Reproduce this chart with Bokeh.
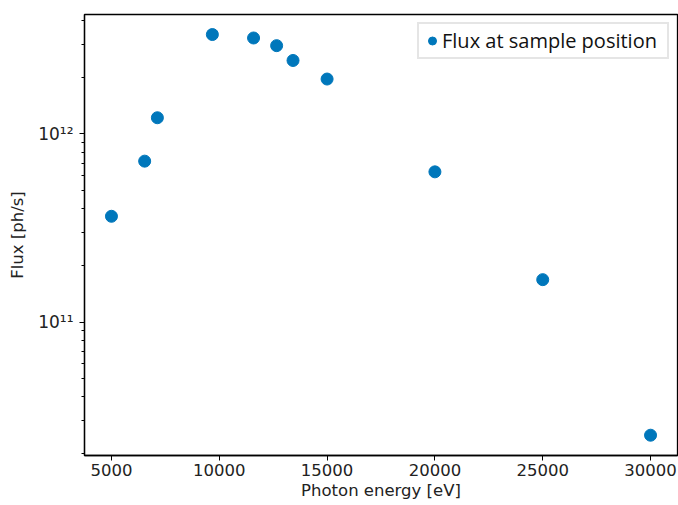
from bokeh.plotting import figure
from bokeh.models import FixedTicker, CustomJSTickFormatter, Range1d
from bokeh.embed import file_html
from bokeh.resources import INLINE

# Data
energy_ev = [5000, 6540, 7130, 9680, 11590, 12660, 13420, 15000, 20000, 25000, 30000]
flux_ph_s = [3.65e11, 7.17e11, 1.22e12, 3.38e12, 3.24e12, 2.95e12, 2.46e12,
             1.96e12, 6.29e11, 1.68e11, 2.50e10]

x_ticks = [5000, 10000, 15000, 20000, 25000, 30000]
y_ticks = [1e11, 1e12]
y_minor = [m * 10.0 ** e for e in (10, 11, 12) for m in range(2, 10)]

series_label = "Flux at sample position"
x_label = "Photon energy [eV]"
y_label = "Flux [ph/s]"

FONT = "DejaVu Sans"
COLOR = "#0077bb"

p = figure(width=678, height=505, y_axis_type="log",
           x_range=Range1d(3750, 31250), y_range=Range1d(1.95e10, 4.32e12),
           output_backend="svg", toolbar_location=None,
           min_border_left=84, min_border_right=1, min_border_top=14, min_border_bottom=50)

p.scatter(energy_ev, flux_ph_s, size=12, fill_color=COLOR, line_color=COLOR,
          legend_label=series_label)

p.grid.visible = False
p.outline_line_color = "black"
p.outline_line_width = 1.3
p.background_fill_color = "white"
p.border_fill_color = "white"

xa = p.xaxis[0]
xa.ticker = FixedTicker(ticks=x_ticks)
xa.axis_label = x_label
ya = p.yaxis[0]
ya.ticker = FixedTicker(ticks=y_ticks, minor_ticks=y_minor)
ya.formatter = CustomJSTickFormatter(code=r"""
const e = Math.round(Math.log10(tick));
const sup = {'0':'\u2070','1':'\u00b9','2':'\u00b2','3':'\u00b3','4':'\u2074','5':'\u2075','6':'\u2076','7':'\u2077','8':'\u2078','9':'\u2079','-':'\u207b'};
return '10' + String(e).split('').map(c => sup[c]).join('');
""")
ya.axis_label = y_label

for ax in (xa, ya):
    ax.axis_line_color = "black"
    ax.axis_line_width = 1.3
    ax.major_tick_line_color = "black"
    ax.major_tick_out = 5
    ax.major_tick_in = 0
    ax.minor_tick_out = 3
    ax.minor_tick_in = 0
    ax.major_label_text_font = FONT
    ax.major_label_text_font_size = "16.5px"
    ax.major_label_text_color = "#222222"
    ax.axis_label_text_font = FONT
    ax.axis_label_text_font_size = "16.5px"
    ax.axis_label_text_font_style = "normal"
    ax.axis_label_text_color = "#222222"
xa.minor_tick_line_color = None
xa.major_label_standoff = 3
xa.axis_label_standoff = 2
ya.major_label_standoff = 6
ya.axis_label_standoff = 8
ya.major_label_text_font_size = "17px"

lg = p.legend[0]
lg.location = "top_right"
lg.margin = 8
lg.padding = 3
lg.spacing = 0
lg.glyph_width = 20
lg.glyph_height = 25
lg.label_height = 20
lg.label_width = 222
lg.label_standoff = 0
lg.label_text_font = "Open Sans"
lg.label_text_font_size = "20px"
lg.label_text_color = "#111111"
lg.border_line_color = "#cccccc"
lg.border_line_width = 2
lg.background_fill_color = "white"
lg.background_fill_alpha = 1.0

open("out.html", "w").write(file_html(p, INLINE))
